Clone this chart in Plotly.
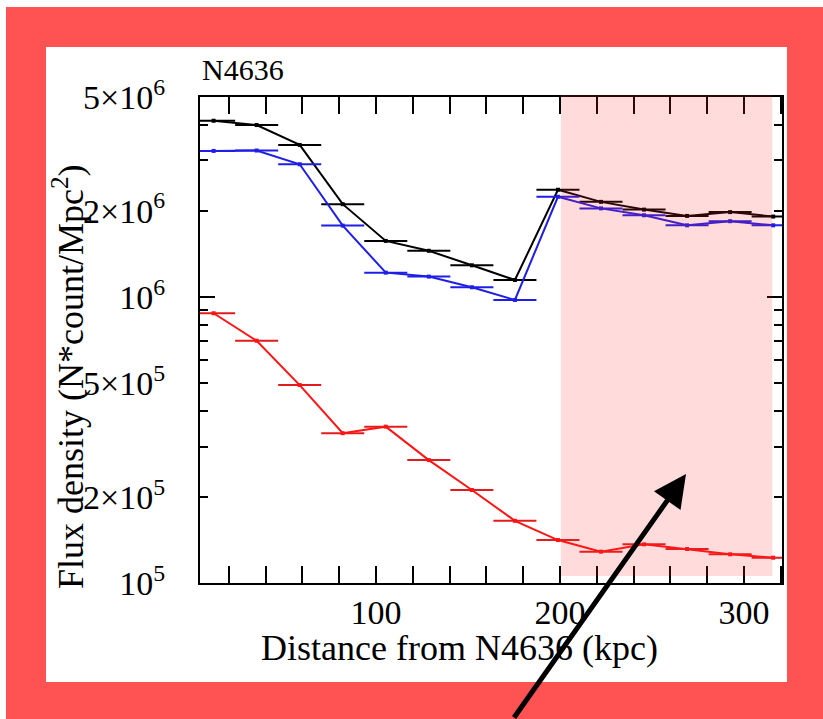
import plotly.graph_objects as go

# ---------------- data ----------------
distance_kpc = [11.7, 35.1, 58.5, 81.9, 105.3, 128.7, 152.1, 175.5,
                198.9, 222.3, 245.7, 269.1, 292.5, 315.9]
bin_halfwidth_kpc = [11.7] * 14

flux_black = [4.13e6, 3.99e6, 3.40e6, 2.11e6, 1.57e6, 1.45e6, 1.29e6, 1.146e6,
              2.37e6, 2.15e6, 2.02e6, 1.92e6, 1.98e6, 1.91e6]
flux_blue = [3.24e6, 3.25e6, 2.91e6, 1.776e6, 1.216e6, 1.178e6, 1.081e6, 0.976e6,
             2.24e6, 2.04e6, 1.93e6, 1.78e6, 1.84e6, 1.78e6]
flux_red = [8.77e5, 7.03e5, 4.92e5, 3.34e5, 3.52e5, 2.69e5, 2.114e5, 1.65e5,
            1.413e5, 1.287e5, 1.365e5, 1.315e5, 1.26e5, 1.226e5]

x_tickvals = [100, 200, 300]
y_tickvals = [1e5, 2e5, 5e5, 1e6, 2e6, 5e6]
y_ticktext = ["10<sup>5</sup>", "2×10<sup>5</sup>", "5×10<sup>5</sup>",
              "10<sup>6</sup>", "2×10<sup>6</sup>", "5×10<sup>6</sup>"]
y_minorvals = [3e5, 4e5, 6e5, 7e5, 8e5, 9e5, 3e6, 4e6]
y_decades = [1e5, 1e6]

title_text = "N4636"
x_title = "Distance from N4636 (kpc)"
y_title = "Flux density (N*count/Mpc<sup>2</sup>)"

# ---------------- figure ----------------
FONT = "Liberation Serif"
W, H = 823, 719
L, R, T, B = 200, 41, 97, 136
PW, PH = W - L - R, H - T - B


def px(xp):
    return (xp - L) / PW


def py(yp):
    return (H - B - yp) / PH


fig = go.Figure()

series = [
    (flux_black, "#000000", "#000000"),
    (flux_blue, "#1e1ee6", "#1e1ee6"),
    (flux_red, "#ff1414", "#e01c1c"),
]
for vals, lc, ec in series:
    fig.add_trace(go.Scatter(
        x=distance_kpc, y=vals, mode="lines+markers",
        line=dict(color=lc, width=2),
        marker=dict(color=lc, size=4, symbol="square"),
        error_x=dict(type="data", array=bin_halfwidth_kpc, symmetric=True,
                     color=ec, thickness=2, width=0),
        showlegend=False, hoverinfo="skip",
    ))

# invisible trace for the decade (long) tick axis
fig.add_trace(go.Scatter(x=[distance_kpc[0]], y=[flux_black[0]], yaxis="y2",
                         mode="markers", marker=dict(opacity=0),
                         showlegend=False, hoverinfo="skip"))

axis_common = dict(showline=True, linecolor="black", linewidth=2, mirror="allticks",
                   ticks="inside", tickcolor="black", tickwidth=2,
                   showgrid=False, zeroline=False,
                   tickfont=dict(family=FONT, size=34, color="black"))

fig.update_layout(
    width=W, height=H,
    font=dict(family=FONT, color="black"),
    margin=dict(l=L, r=R, t=T, b=B, pad=0),
    paper_bgcolor="white", plot_bgcolor="white",
    xaxis=dict(range=[4.3, 320.7], tickvals=x_tickvals, ticklen=17,
               ticklabelstandoff=-2,
               minor=dict(dtick=20, tick0=0, ticks="inside", ticklen=9,
                          tickcolor="black", tickwidth=2),
               **axis_common),
    yaxis=dict(type="log", range=[5, 6.699], tickvals=y_tickvals, ticktext=y_ticktext,
               ticklen=8, ticklabelstandoff=26,
               minor=dict(tickvals=y_minorvals, ticks="inside", ticklen=8,
                          tickcolor="black", tickwidth=2),
               **axis_common),
    yaxis2=dict(type="log", range=[5, 6.699], overlaying="y", side="left",
                tickvals=y_decades, showticklabels=False, ticks="inside",
                ticklen=15, tickwidth=2, tickcolor="black", mirror="allticks",
                showline=False, showgrid=False, zeroline=False),
)

shapes = [
    # red frame
    dict(type="rect", xref="paper", yref="paper", layer="below",
         x0=px(6), x1=px(W + 5), y0=py(H + 5), y1=py(7),
         fillcolor="#ff5252", line=dict(width=0)),
    # white inner panel
    dict(type="rect", xref="paper", yref="paper", layer="below",
         x0=px(46), x1=px(787), y0=py(682), y1=py(47),
         fillcolor="white", line=dict(width=0)),
    # pink highlighted region (drawn above the data)
    dict(type="rect", xref="x", yref="paper", layer="above",
         x0=200.5, x1=315.4, y0=py(576), y1=py(95),
         fillcolor="rgba(255,40,40,0.17)", line=dict(width=0)),
]
fig.update_layout(shapes=shapes)

annotations = [
    dict(text=title_text, xref="paper", yref="paper", x=0, y=py(70),
         xanchor="left", yanchor="middle", showarrow=False,
         font=dict(family=FONT, size=30, color="black")),
    dict(text=x_title, xref="paper", yref="paper", x=px(459), y=py(648),
         xanchor="center", yanchor="middle", showarrow=False,
         font=dict(family=FONT, size=36, color="black")),
    dict(text=y_title, xref="paper", yref="paper", x=px(68), y=py(377),
         xanchor="center", yanchor="middle", textangle=-90, showarrow=False,
         font=dict(family=FONT, size=36, color="black")),
    dict(text="", xref="paper", yref="paper", x=px(686), y=py(474),
         showarrow=True, arrowhead=2, arrowsize=1.3, arrowwidth=5,
         arrowcolor="black", ax=513 - 686, ay=722 - 474, standoff=0),
]
fig.update_layout(annotations=annotations)

fig.write_html("out.html", config={"displayModeBar": False},
               post_script="document.body.style.margin='0px';")
